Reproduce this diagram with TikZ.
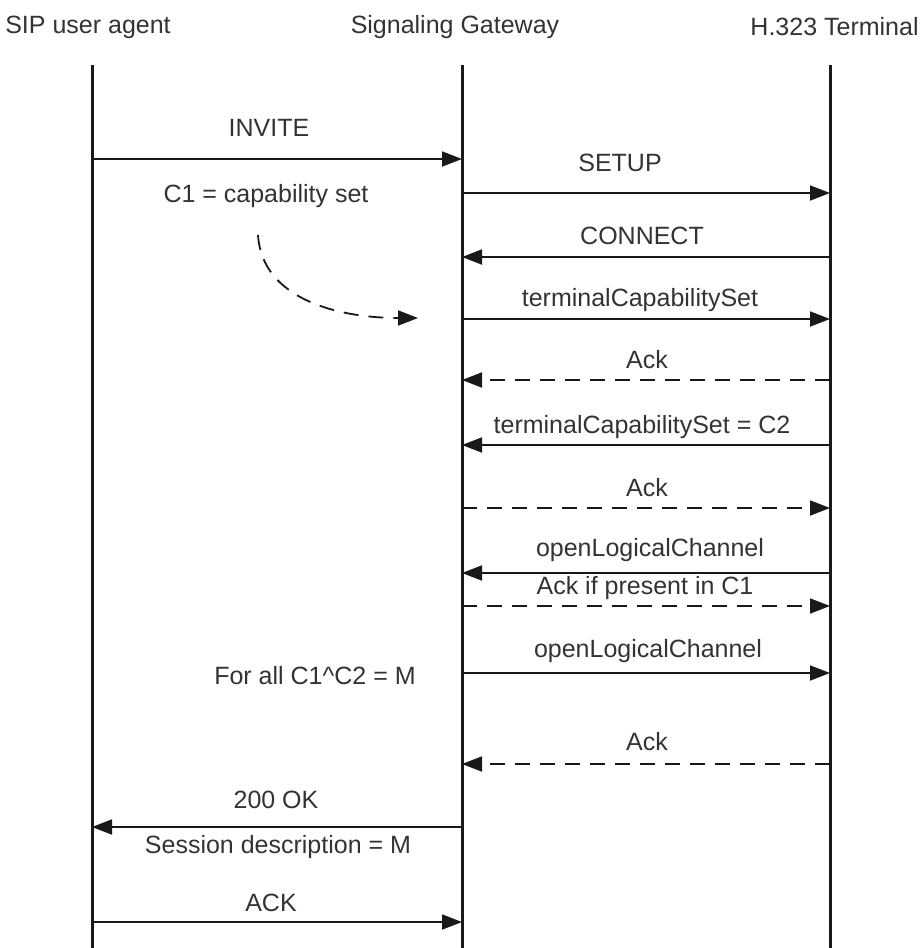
\documentclass[tikz,border=0pt]{standalone}
\usepackage{fontspec}
\setmainfont{Liberation Sans}
\usetikzlibrary{arrows.meta}
\definecolor{lineclr}{rgb}{0.1, 0.1, 0.1}
\definecolor{txtclr}{rgb}{0.2, 0.2, 0.2}
\tikzset{ %
  ,>={Triangle[length=10pt,width=7.5pt]}
  ,every node/.style={font=\fontsize{12.5}{14}\selectfont, text=txtclr, inner sep=0}
  ,lifeline/.style={draw=lineclr, line width=1.5pt}
  ,msg/.style={draw=lineclr, line width=0.9pt, ->}
  ,ackmsg/.style={msg, dash pattern=on 7.5pt off 5pt}
  ,note/.style={inner sep=0}
}
\begin{document}
\begin{tikzpicture}[x=0.5pt, y=-0.5pt]
    \useasboundingbox (0,0) rectangle (922,948);
    % entities
    \node (sipname) at (88,27) {SIP user agent};
    \node (gwname) at (455,27) {Signaling Gateway};
    \node[anchor=east] (h323name) at (919,27) {H.323 Terminal};
    \coordinate (sip) at (92,65);
    \coordinate (gw) at (462,65);
    \coordinate (h323) at (830,65);
    \coordinate (bottom) at (0,948);
    \draw[lifeline] (sip) -- (sip |- bottom);
    \draw[lifeline] (gw) -- (gw |- bottom);
    \draw[lifeline] (h323) -- (h323 |- bottom);
    % message rows
    \coordinate (r1) at (0,159);
    \coordinate (r2) at (0,193);
    \coordinate (r3) at (0,257);
    \coordinate (r4) at (0,319);
    \coordinate (r5) at (0,380);
    \coordinate (r6) at (0,445);
    \coordinate (r7) at (0,508);
    \coordinate (r8) at (0,573);
    \coordinate (r9) at (0,606);
    \coordinate (r10) at (0,673);
    \coordinate (r11) at (0,764);
    \coordinate (r12) at (0,827);
    \coordinate (r13) at (0,922);
    \draw[msg] (sip |- r1) -- (gw |- r1);
    \draw[msg] (gw |- r2) -- (h323 |- r2);
    \draw[msg] (h323 |- r3) -- (gw |- r3);
    \draw[msg] (gw |- r4) -- (h323 |- r4);
    \draw[ackmsg] (h323 |- r5) -- (gw |- r5);
    \draw[msg] (h323 |- r6) -- (gw |- r6);
    \draw[ackmsg] (gw |- r7) -- (h323 |- r7);
    \draw[msg] (h323 |- r8) -- (gw |- r8);
    \draw[ackmsg] (gw |- r9) -- (h323 |- r9);
    \draw[msg] (gw |- r10) -- (h323 |- r10);
    \draw[ackmsg] (h323 |- r11) -- (gw |- r11);
    \draw[msg] (gw |- r12) -- (sip |- r12);
    \draw[msg] (sip |- r13) -- (gw |- r13);
    % labels
    \node (invite) at (269,128) {INVITE};
    \node (setup) at (620,163) {SETUP};
    \node (connect) at (642,236) {CONNECT};
    \node (tcs) at (640,300) {terminalCapabilitySet};
    \node (ack1) at (647,360) {Ack};
    \node (tcs2) at (642,427) {terminalCapabilitySet = C2};
    \node (ack2) at (647,488) {Ack};
    \node (olc1) at (650,550) {openLogicalChannel};
    \node (ackc1) at (645,588) {Ack if present in C1};
    \node (olc2) at (648,651) {openLogicalChannel};
    \node (ack3) at (647,742) {Ack};
    \node (ok) at (276,800) {200 OK};
    \node (sdp) at (278,847) {Session description = M};
    \node (ack) at (271,903) {ACK};
    % notes
    \node[note] (capset) at (266,196) {C1 = capability set};
    \node[note] (forall) at (315,676) {For all C1\textasciicircum C2 = M};
    \coordinate (curvestart) at (258,235);
    \coordinate (curveend) at (418,318);
    \draw[msg, dash pattern=on 7.5pt off 5pt] (curvestart) .. controls (262,300) and (340,318) .. (curveend);
\end{tikzpicture}
\end{document}
